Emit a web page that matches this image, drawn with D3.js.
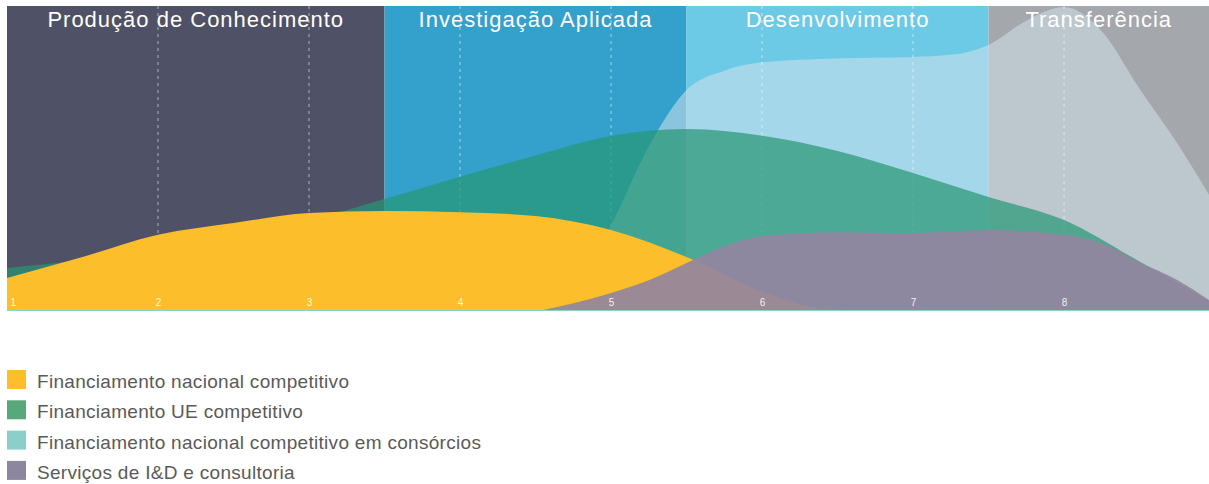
<!DOCTYPE html>
<html>
<head>
<meta charset="utf-8">
<script src="https://cdn.jsdelivr.net/npm/d3@7/dist/d3.min.js"></script>
<style>
  html, body { margin: 0; padding: 0; background: #ffffff; }
  svg { display: block; }
</style>
</head>
<body>
<svg id="chart" width="1209" height="484"></svg>
<script>
// ---------------- DATA ----------------
const phaseNames = ["Produção de Conhecimento", "Investigação Aplicada", "Desenvolvimento", "Transferência"];
const phaseBounds = [1, 3.5, 5.5, 7.5, 8.96];
const phaseColors = ["#4f5166", "#33a1cc", "#6dcae6", "#a4a7ab"];

const tickValues = [1, 2, 3, 4, 5, 6, 7, 8];
const gridValues = [2, 3, 4, 5, 6, 7, 8];

// [stage, relative intensity 0-100]
const consorcios = [[4.4,0],[4.75,6],[5,28],[5.25,54],[5.5,72.6],[5.75,79],[6,81.8],[6.5,83],[7,83.5],[7.25,84.2],[7.5,87.5],[7.75,95.5],[8,100],[8.25,92],[8.5,73],[8.75,55],[8.96,38]];
const ueCompetitivo = [[1,13.9],[1.5,16.5],[2,20],[2.5,24.5],[3,29.5],[3.5,36.6],[4,44],[4.5,51],[5,57.4],[5.5,59.7],[6,57.5],[6.5,52.5],[7,45.2],[7.5,37.3],[8,29.7],[8.5,16],[8.96,3]];
const nacionalCompetitivo = [[1,10.6],[1.5,17.5],[2,24.8],[2.5,28.7],[3,32],[3.5,32.7],[4,32.3],[4.5,31],[5,26.4],[5.5,17.5],[6,6],[6.5,0],[8.96,0]];
const servicos = [[4.55,0],[4.75,2.2],[5,5.6],[5.25,9.8],[5.5,15.5],[5.75,21],[6,24.4],[6.5,25.7],[7,25.4],[7.5,26.4],[8,24.8],[8.25,22],[8.5,15.8],[8.75,9.9],[8.96,3.3]];

const legendLabels = ["Financiamento nacional competitivo", "Financiamento UE competitivo", "Financiamento nacional competitivo em consórcios", "Serviços de I&D e consultoria"];
const legendColors = ["#fcbf2b", "#57a87b", "#8ccfc9", "#8d869f"];

// ---------------- DRAW ----------------
const svg = d3.select("#chart");
const x = d3.scaleLinear().domain([1, 8.96]).range([7, 1209]);
const y = d3.scaleLinear().domain([0, 100]).range([310, 7]);
const plotTop = 6, plotBottom = 310;

const font = "'Liberation Sans', Arial, Helvetica, sans-serif";

// phase bands
svg.append("g").selectAll("rect")
  .data(phaseNames)
  .join("rect")
  .attr("x", (d, i) => x(phaseBounds[i]))
  .attr("y", plotTop)
  .attr("width", (d, i) => x(phaseBounds[i + 1]) - x(phaseBounds[i]))
  .attr("height", plotBottom - plotTop)
  .attr("fill", (d, i) => phaseColors[i]);

const area = d3.area()
  .x(d => x(d[0]))
  .y0(y(0))
  .y1(d => y(d[1]))
  .curve(d3.curveMonotoneX);

// consórcios (translucent light layer)
svg.append("path").datum(consorcios)
  .attr("d", area)
  .attr("fill", "rgb(209,226,235)")
  .attr("fill-opacity", 0.55);

// dotted grid
svg.append("g").selectAll("line")
  .data(gridValues)
  .join("line")
  .attr("x1", d => x(d)).attr("x2", d => x(d))
  .attr("y1", plotTop).attr("y2", plotBottom)
  .attr("stroke", "#ffffff")
  .attr("stroke-opacity", 0.55)
  .attr("stroke-width", 1)
  .attr("stroke-dasharray", "3,4");

// UE competitivo
svg.append("path").datum(ueCompetitivo)
  .attr("d", area)
  .attr("fill", "rgb(38,151,115)")
  .attr("fill-opacity", 0.71);

// nacional competitivo
svg.append("path").datum(nacionalCompetitivo)
  .attr("d", area)
  .attr("fill", "#fcbf2b");

// serviços
svg.append("path").datum(servicos)
  .attr("d", area)
  .attr("fill", "rgb(147,133,159)")
  .attr("fill-opacity", 0.92);

// baseline
svg.append("line")
  .attr("x1", x(1)).attr("x2", x(8.96))
  .attr("y1", plotBottom + 0.5).attr("y2", plotBottom + 0.5)
  .attr("stroke", "#8fcfc6").attr("stroke-width", 1.2);

// tick labels via axis
const axis = d3.axisBottom(x).tickValues(tickValues).tickSize(0).tickFormat(d3.format("d"));
const ag = svg.append("g").attr("transform", `translate(0,${plotBottom})`).call(axis);
ag.select(".domain").remove();
ag.selectAll("text")
  .attr("y", -4)
  .attr("dy", 0)
  .attr("fill", "#ffffff")
  .attr("fill-opacity", 0.9)
  .style("font-family", font)
  .style("font-size", "10px");
ag.selectAll(".tick").filter(d => d === 1).select("text")
  .attr("text-anchor", "start").attr("x", 3);

// phase labels
svg.append("g").selectAll("text")
  .data(phaseNames)
  .join("text")
  .attr("x", (d, i) => (x(phaseBounds[i]) + x(phaseBounds[i + 1])) / 2)
  .attr("y", 27)
  .attr("text-anchor", "middle")
  .attr("fill", "#ffffff")
  .style("font-family", font)
  .style("font-size", "22px")
  .style("letter-spacing", "1px")
  .text(d => d);

// legend
const lg = svg.append("g").selectAll("g")
  .data(legendLabels)
  .join("g")
  .attr("transform", (d, i) => `translate(7,${370 + i * 30.3})`);
lg.append("rect")
  .attr("width", 19).attr("height", 19)
  .attr("fill", (d, i) => legendColors[i]);
lg.append("text")
  .attr("x", 30).attr("y", 18)
  .attr("fill", "#5a5a5a")
  .style("font-family", font)
  .style("font-size", "19px")
  .style("letter-spacing", "0.3px")
  .text(d => d);
</script>
</body>
</html>
